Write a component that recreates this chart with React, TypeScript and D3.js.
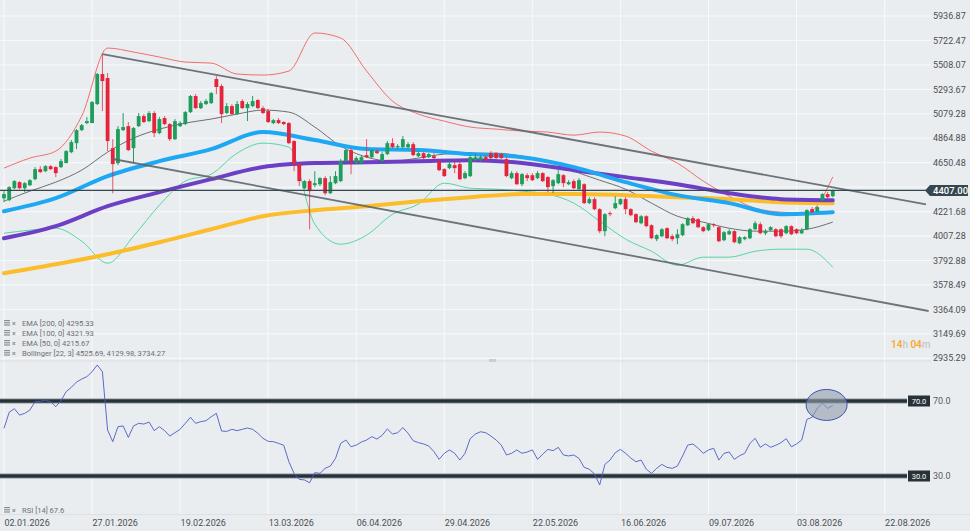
import React, { useEffect } from 'react';
import * as d3 from 'd3';

const W = 970;
const H = 531;

const dateLabels = ['02.01.2026','27.01.2026','19.02.2026','13.03.2026','06.04.2026','29.04.2026','22.05.2026','16.06.2026','09.07.2026','03.08.2026','22.08.2026'];
const dateTickStep = 17;
const priceTicks = [5936.87,5722.47,5508.07,5293.67,5079.28,4864.88,4650.48,4436.08,4221.68,4007.28,3792.88,3578.49,3364.09,3149.69,2935.29];
const lastPrice = 4407.0;

const open = [
4339,4322,4427,4480,4427,4453,4506,4594,4576,4620,
4612,4612,4647,4743,4822,4936,4998,4998,5165,5428,
5393,4778,4647,4936,4971,4778,4971,5059,5015,5086,
4910,5042,4989,4857,4971,4989,5094,5235,5129,5165,
5173,5384,5323,5086,5147,5077,5191,5129,5147,5200,
5129,5103,4998,5024,5007,4998,4840,4638,4427,4489,
4454,4462,4515,4383,4471,4489,4664,4761,4647,4647,
4717,4699,4752,4664,4726,4822,4787,4787,4787,4813,
4708,4734,4699,4708,4664,4594,4603,4629,4638,4515,
4533,4673,4673,4699,4734,4734,4726,4682,4515,4559,
4462,4541,4541,4515,4559,4524,4445,4471,4541,4462,
4489,4418,4462,4296,4331,4243,4050,4208,4252,4287,
4331,4243,4199,4120,4181,4102,3980,4006,4076,4006,
3988,4015,4102,4164,4155,4085,4059,4111,4085,3971,
4023,4050,3944,3980,3988,4067,4111,4032,4059,4067,
4067,4032,4094,4067,4032,4067,4243,4225,4322,4375,
4357];
const high = [
4401,4445,4497,4489,4480,4506,4612,4620,4629,4629,
4620,4682,4761,4849,4945,4989,5050,5191,5437,5603,
5437,4857,4971,5086,5007,4963,5086,5077,5103,5103,
5050,5059,4998,5033,5015,5103,5244,5252,5191,5208,
5270,5410,5340,5173,5165,5191,5208,5182,5235,5208,
5147,5121,5033,5042,5015,5007,4849,4647,4497,4506,
4576,4524,4533,4533,4576,4682,4770,4778,4708,4717,
4857,4770,4770,4743,4840,4866,4813,4884,4831,4831,
4752,4743,4734,4734,4682,4603,4664,4682,4664,4576,
4717,4734,4717,4717,4752,4743,4734,4699,4576,4576,
4559,4559,4559,4576,4568,4533,4506,4585,4550,4497,
4506,4515,4471,4348,4348,4252,4208,4225,4357,4339,
4348,4252,4208,4190,4190,4111,4023,4076,4085,4023,
4067,4120,4173,4181,4164,4094,4120,4120,4094,4050,
4067,4059,4006,4006,4076,4138,4129,4067,4094,4076,
4076,4102,4102,4076,4076,4243,4261,4269,4383,4392,
4415];
const low = [
4304,4313,4418,4418,4392,4445,4497,4559,4568,4585,
4524,4603,4647,4734,4770,4928,4989,4998,5156,5103,
4752,4383,4629,4928,4752,4647,4963,4998,5007,4875,
4901,4980,4840,4849,4963,4980,5086,5121,5121,5156,
5165,5252,4998,5077,5068,5068,5121,5015,5138,5121,
5077,4998,4989,4989,4980,4813,4576,4445,4418,4067,
4436,4445,4366,4375,4462,4480,4655,4550,4638,4638,
4691,4691,4726,4655,4717,4778,4770,4778,4770,4708,
4699,4682,4691,4682,4576,4524,4594,4559,4497,4506,
4524,4664,4664,4664,4682,4682,4682,4524,4506,4454,
4445,4489,4489,4506,4480,4392,4383,4462,4436,4454,
4418,4410,4287,4287,4234,4032,4006,4181,4243,4278,
4199,4181,4120,4111,4085,3980,3962,3997,3980,3962,
3936,4006,4094,4111,4076,4041,4050,4085,3953,3962,
4015,3944,3936,3971,3980,4059,4023,4015,4050,3997,
3988,4023,4015,4023,4023,4059,4208,4217,4313,4339,
4348];
const close = [
4375,4436,4489,4427,4471,4497,4594,4568,4620,4594,
4559,4664,4752,4831,4936,4980,5015,5182,5428,5366,
4840,4638,4945,4963,4761,4954,5059,5007,5086,4910,
5033,4989,4857,5015,4998,5094,5235,5129,5173,5191,
5261,5314,5077,5147,5077,5165,5129,5165,5191,5129,
5086,5007,5024,4998,4989,4822,4638,4489,4489,4401,
4471,4515,4383,4480,4533,4664,4761,4664,4691,4699,
4699,4761,4734,4726,4822,4787,4796,4857,4813,4717,
4734,4691,4726,4691,4585,4533,4638,4603,4506,4559,
4699,4699,4699,4673,4691,4691,4691,4533,4559,4462,
4550,4515,4497,4559,4489,4436,4497,4550,4471,4480,
4427,4497,4296,4331,4243,4050,4199,4199,4296,4331,
4243,4190,4129,4181,4094,3988,4015,4067,3988,3980,
4023,4111,4164,4120,4085,4050,4111,4102,3962,4041,
4050,3953,3997,3997,4067,4120,4032,4050,4085,4006,
4006,4094,4023,4032,4059,4234,4217,4261,4375,4348,
4407];

const rsi14 = [
55.4,64.0,65.9,62.5,63.4,65.2,69.6,69.8,70.5,69.6,
67.0,70.2,75.0,77.3,80.1,81.7,83.0,85.6,89.2,85.6,
54.5,48.3,56.3,56.7,50.6,56.7,58.1,57.7,58.8,54.2,
56.3,54.2,51.3,53.1,54.9,58.1,61.3,58.1,59.0,59.5,
61.6,63.4,54.0,53.8,54.9,54.2,54.9,55.6,54.9,52.8,
50.1,48.5,48.3,47.4,46.4,37.6,31.4,28.2,27.9,26.4,
31.8,31.4,34.1,35.3,39.4,47.4,49.2,45.6,46.5,48.1,
49.2,51.0,49.7,51.7,55.1,52.4,53.1,55.8,52.8,48.8,
47.8,47.1,46.0,43.0,38.9,42.1,43.9,42.1,38.5,42.1,
49.9,52.4,53.6,53.1,51.3,49.2,46.5,41.2,42.1,43.9,
42.1,42.8,43.9,38.9,41.6,44.2,43.5,45.3,41.2,40.7,
41.2,39.4,34.6,33.6,31.1,25.2,36.2,38.5,42.4,44.2,
42.1,39.6,37.6,38.5,33.6,31.4,34.1,36.2,34.6,34.1,
35.3,40.7,46.5,47.1,44.8,42.1,43.9,44.8,38.5,42.1,
42.8,38.9,40.8,42.1,47.4,50.1,45.3,47.1,45.3,46.4,
47.8,49.9,45.6,47.1,49.2,60.2,61.3,66.1,68.8,66.1,
67.6];

// EMA values read every 10 bars (bar 0, 10, ..., 160)
const emaSampleStep = 10;
const ema200 = [3681,3760,3848,3953,4067,4181,4234,4269,4313,4348,4375,4375,4366,4348,4331,4304,4295];
const ema100 = [3988,4094,4269,4392,4506,4612,4647,4655,4664,4673,4647,4585,4524,4462,4383,4331,4322];
const ema50 = [4225,4339,4533,4664,4770,4919,4849,4770,4761,4726,4699,4612,4480,4366,4296,4199,4216];

// Bollinger values read every 5 bars (bar 0, 5, ..., 160)
const bbSampleStep = 5;
const bbUpper = [4603,4691,4752,5059,5656,5621,5577,5533,5524,5428,5419,5454,5788,5744,5454,5191,5077,5015,4963,4945,4928,4919,4892,4919,4884,4752,4647,4489,4357,4252,4217,4208,4526];
const bbMid = [4313,4401,4480,4585,4743,4866,4945,4998,5033,5077,5112,5094,4963,4796,4699,4664,4691,4726,4734,4734,4708,4664,4576,4497,4418,4296,4181,4129,4076,4050,4050,4067,4130];
const bbLower = [4032,4059,4076,3962,3769,4006,4278,4489,4550,4734,4822,4787,4111,3936,4015,4199,4287,4471,4427,4418,4401,4375,4296,4138,3980,3874,3751,3822,3822,3874,3892,3892,3734];

// trend channel (bar index, price)
const channelUpper: [number, number][] = [[19, 5603], [178, 4286]];
const channelLower: [number, number][] = [[21, 4683], [178.5, 3350]];

const legendLines = ['EMA [200, 0] 4295.33', 'EMA [100, 0] 4321.93', 'EMA [50, 0] 4215.67', 'Bollinger [22, 3] 4525.69, 4129.98, 3734.27'];
const rsiLegend = 'RSI [14] 67.6';
const rsiLevels = [70, 30];
const rsiHighlight: [number, number] = [158.8, 67.9];
const countdown = [['14', 'h'], ['04', 'm']];

const UP = '#1f9d5c';
const DOWN = '#e5243b';
const BG = '#eaedf0';
const GRID = '#f8f9fa';
const FONT = 'Roboto, "Noto Sans", sans-serif';

function Icon({ x, y }: { x: number; y: number }) {
  return (
    <g transform={`translate(${x},${y})`} fill="#8a8f94">
      <rect x={0} y={-3.5} width={6} height={1.2} />
      <rect x={0} y={-1.3} width={6} height={1.2} />
      <rect x={0} y={0.9} width={6} height={1.2} />
      <text x={8} y={2.2} fontSize={7} fontWeight={700} fill="#8a8f94">×</text>
    </g>
  );
}

export default function App() {
  useEffect(() => {
    document.body.style.margin = '0';
  }, []);

  const n = close.length;
  const x = d3.scaleLinear().domain([0, 170]).range([4, 4 + 5.18 * 170]);
  const y = d3.scaleLinear().domain([2935.29, 5936.87]).range([358.3, 16]);
  const yr = d3.scaleLinear().domain([30, 70]).range([476, 401]);

  const line = d3.line<[number, number]>().x(d => x(d[0])).y(d => y(d[1])).curve(d3.curveMonotoneX);
  const straight = d3.line<[number, number]>().x(d => x(d[0])).y(d => y(d[1]));
  const rsiLine = d3.line<number>().x((_, i) => x(i)).y(d => yr(d));

  const samples = (arr: number[], step: number) => arr.map((v, i) => [i * step, v] as [number, number]);

  const bodyW = 3.8;
  const dateTicks = dateLabels.map((_, i) => i * dateTickStep);
  const yLast = y(lastPrice);
  // axis label hidden behind the last-price marker
  const visibleTicks = priceTicks.filter(p => Math.abs(y(p) - yLast) > 8);

  return (
    <svg width={W} height={H} style={{ position: 'absolute', left: 0, top: 0, display: 'block' }} fontFamily={FONT}>
      <rect x={0} y={0} width={W} height={H} fill={BG} />
      {priceTicks.map(p => (
        <line key={p} x1={0} x2={931} y1={y(p)} y2={y(p)} stroke={GRID} strokeWidth={1} />
      ))}
      {dateTicks.map(t => (
        <line key={t} x1={x(t)} x2={x(t)} y1={0} y2={514} stroke={GRID} strokeWidth={1} />
      ))}
      <line x1={0} x2={931} y1={361} y2={361} stroke="#d9dde0" strokeWidth={1} />
      <rect x={489} y={359} width={7} height={3} fill="#c9ced2" />
      <line x1={0} x2={970} y1={514.5} y2={514.5} stroke="#dde1e4" strokeWidth={1} />

      <g>
        <clipPath id="mainClip"><rect x={0} y={0} width={931} height={360} /></clipPath>
        <g clipPath="url(#mainClip)">
          <path d={line(samples(bbUpper, bbSampleStep)) || ''} fill="none" stroke="#f25f5f" strokeWidth={0.9} />
          <path d={line(samples(bbMid, bbSampleStep)) || ''} fill="none" stroke="#4d4f52" strokeWidth={0.8} />
          <path d={line(samples(bbLower, bbSampleStep)) || ''} fill="none" stroke="#45d39a" strokeWidth={0.9} />
          <path d={line(samples(ema200, emaSampleStep)) || ''} fill="none" stroke="#fbbd2a" strokeWidth={4} strokeLinecap="round" />
          <path d={line(samples(ema100, emaSampleStep)) || ''} fill="none" stroke="#6c3fc4" strokeWidth={4} strokeLinecap="round" />
          <path d={line(samples(ema50, emaSampleStep)) || ''} fill="none" stroke="#1ea7f2" strokeWidth={4} strokeLinecap="round" />
          {d3.range(n).map(i => {
            const up = close[i] >= open[i];
            const c = up ? UP : DOWN;
            const top = y(Math.max(open[i], close[i]));
            const bot = y(Math.min(open[i], close[i]));
            return (
              <g key={i}>
                <line x1={x(i)} x2={x(i)} y1={y(high[i])} y2={y(low[i])} stroke={c} strokeWidth={1} opacity={up ? 1 : 0.75} />
                <rect x={x(i) - bodyW / 2} y={top} width={bodyW} height={Math.max(1, bot - top)} fill={c} />
              </g>
            );
          })}
          <path d={straight(channelUpper) || ''} stroke="#5d666d" strokeWidth={1.8} fill="none" opacity={0.9} />
          <path d={straight(channelLower) || ''} stroke="#5d666d" strokeWidth={1.8} fill="none" opacity={0.9} />
          <line x1={0} x2={926} y1={yLast} y2={yLast} stroke="#37474f" strokeWidth={1.2} />
        </g>
      </g>

      {visibleTicks.map(p => (
        <text key={p} x={933} y={y(p)} dy="0.35em" fontSize={9} fill="#4a4f54">{p.toFixed(2)}</text>
      ))}
      <g>
        <path d={`M925,${yLast} L930,${yLast - 5.5} L968,${yLast - 5.5} L968,${yLast + 5.5} L930,${yLast + 5.5} Z`} fill="#37474f" />
        <text x={933} y={yLast} dy="0.36em" fontSize={9.5} fill="#ffffff" fontWeight={500}>{lastPrice.toFixed(2)}</text>
      </g>
      <text x={891} y={348} fontSize={10} fontWeight={500}>
        {countdown.map(([num, unit], k) => (
          <tspan key={k}>
            <tspan fill="#f6a623">{(k > 0 ? ' ' : '') + num}</tspan>
            <tspan fill="#c4c7ca">{unit}</tspan>
          </tspan>
        ))}
      </text>

      {legendLines.map((t, k) => (
        <g key={t}>
          <Icon x={4} y={323.5 + k * 10} />
          <text x={22} y={323.5 + k * 10} dy="0.35em" fontSize={7.6} fill="#6b7075">{t}</text>
        </g>
      ))}

      <g>
        <clipPath id="rsiClip"><rect x={0} y={362} width={931} height={152} /></clipPath>
        <g clipPath="url(#rsiClip)">
          {rsiLevels.map(l => (
            <g key={l}>
              <line x1={0} x2={907} y1={yr(l)} y2={yr(l)} stroke="#9aa3a9" strokeWidth={6} opacity={0.6} />
              <line x1={0} x2={907} y1={yr(l)} y2={yr(l)} stroke="#263238" strokeWidth={3.4} />
            </g>
          ))}
          <path d={rsiLine(rsi14) || ''} fill="none" stroke="#4b5bc6" strokeWidth={0.9} />
          <ellipse cx={x(rsiHighlight[0])} cy={yr(rsiHighlight[1])} rx={20.5} ry={15.5} fill="#8f9cab" fillOpacity={0.6} stroke="#3f51b5" strokeWidth={1} />
        </g>
        {rsiLevels.map(l => (
          <g key={l}>
            <rect x={908} y={yr(l) - 5.5} width={22} height={11} fill="#263238" />
            <text x={919} y={yr(l)} dy="0.35em" textAnchor="middle" fontSize={7.5} fill="#ffffff">{l.toFixed(1)}</text>
            <text x={933} y={yr(l)} dy="0.35em" fontSize={9} fill="#55595e">{l.toFixed(1)}</text>
          </g>
        ))}
        <Icon x={4} y={510.5} />
        <text x={22} y={510.5} dy="0.35em" fontSize={7.6} fill="#6b7075">{rsiLegend}</text>
      </g>

      {dateTicks.map((t, k) => (
        <text key={t} x={x(t) + 0.5} y={525.5} fontSize={9} fill="#4a4f54">{dateLabels[k]}</text>
      ))}
    </svg>
  );
}
